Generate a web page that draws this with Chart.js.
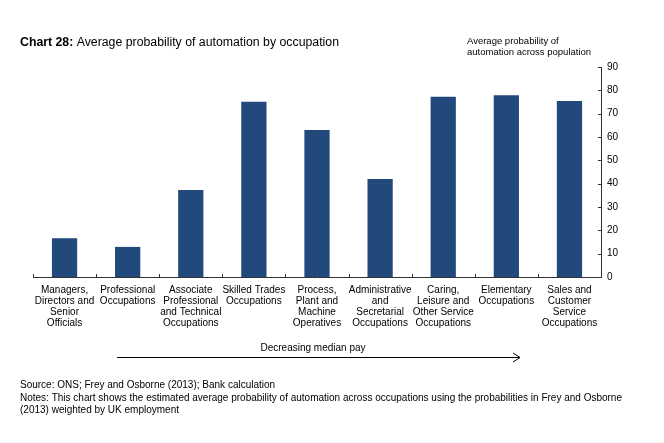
<!DOCTYPE html>
<html>
<head>
    <title>Chart 28: Average probability of automation by occupation</title>
    <script src="https://cdn.jsdelivr.net/npm/chart.js"></script>
    <style>
        body { margin: 0; background: #fff; }
        canvas { display: block; }
    </style>
</head>
<body>
    <canvas id="automationChart" width="664" height="443"></canvas>
    <script>
        // Occupation groups, ordered by decreasing median pay
        const occupations = [
            ['Managers,', 'Directors and', 'Senior', 'Officials'],
            ['Professional', 'Occupations'],
            ['Associate', 'Professional', 'and Technical', 'Occupations'],
            ['Skilled Trades', 'Occupations'],
            ['Process,', 'Plant and', 'Machine', 'Operatives'],
            ['Administrative', 'and', 'Secretarial', 'Occupations'],
            ['Caring,', 'Leisure and', 'Other Service', 'Occupations'],
            ['Elementary', 'Occupations'],
            ['Sales and', 'Customer', 'Service', 'Occupations']
        ];
        // Average probability of automation (%)
        const probability = [16.6, 12.9, 37.3, 75.1, 63.0, 42.0, 77.3, 77.9, 75.4];
        const yMin = 0;
        const yMax = 90;
        const yStep = 10;

        const FONT = "'Liberation Sans', Arial, sans-serif";

        // extra text and the little inward tick marks
        const decorations = {
            id: 'decorations',
            afterDraw(chart) {
                const ctx = chart.ctx;
                const x = chart.scales.x;
                const y = chart.scales.y;
                ctx.save();
                ctx.fillStyle = '#000';
                ctx.strokeStyle = '#000';
                ctx.textBaseline = 'alphabetic';

                // title
                ctx.font = 'bold 12.3px ' + FONT;
                ctx.textAlign = 'left';
                const lead = 'Chart 28:';
                ctx.fillText(lead, 20, 46);
                const w = ctx.measureText(lead + ' ').width;
                ctx.font = '12.3px ' + FONT;
                ctx.fillText('Average probability of automation by occupation', 20 + w, 46);

                // axis caption
                ctx.font = '9.5px ' + FONT;
                ctx.fillText('Average probability of', 467, 44);
                ctx.fillText('automation across population', 467, 55);

                // y ticks pointing into the plot
                ctx.lineWidth = 1;
                ctx.strokeStyle = '#333';
                ctx.beginPath();
                for (let v = yMin; v <= yMax; v += yStep) {
                    const py = Math.round(y.getPixelForValue(v)) + 0.5;
                    ctx.moveTo(y.left - 3, py);
                    ctx.lineTo(y.left, py);
                }
                // x ticks at category boundaries
                for (let i = 0; i <= occupations.length; i++) {
                    const px = Math.round(x.getPixelForValue(i - 0.5)) + 0.5;
                    ctx.moveTo(px, x.top - 3);
                    ctx.lineTo(px, x.top);
                }
                ctx.stroke();

                // arrow
                ctx.strokeStyle = '#000';
                ctx.beginPath();
                ctx.moveTo(117, 357.5);
                ctx.lineTo(520, 357.5);
                ctx.moveTo(513, 353);
                ctx.lineTo(520, 357.5);
                ctx.lineTo(513, 362);
                ctx.stroke();
                ctx.font = '10px ' + FONT;
                ctx.textAlign = 'center';
                ctx.fillText('Decreasing median pay', 313, 351);

                // footnotes
                ctx.textAlign = 'left';
                ctx.fillText('Source: ONS; Frey and Osborne (2013); Bank calculation', 20, 388);
                ctx.fillText('Notes: This chart shows the estimated average probability of automation across occupations using the probabilities in Frey and Osborne', 20, 401);
                ctx.fillText('(2013) weighted by UK employment', 20, 413);
                ctx.restore();
            }
        };

        const ctx = document.getElementById('automationChart').getContext('2d');
        new Chart(ctx, {
            type: 'bar',
            data: {
                labels: occupations,
                datasets: [{
                    data: probability,
                    backgroundColor: '#21497c',
                    borderWidth: 0,
                    categoryPercentage: 0.8,
                    barPercentage: 0.5
                }]
            },
            options: {
                responsive: false,
                animation: false,
                layout: {
                    padding: { left: 33, right: 33, top: 67, bottom: 106 }
                },
                scales: {
                    x: {
                        offset: true,
                        grid: { display: false, drawTicks: false },
                        border: { display: true, color: '#333', width: 1 },
                        ticks: {
                            color: '#000',
                            font: { family: FONT, size: 10, lineHeight: 1.1 },
                            padding: 8,
                            maxRotation: 0,
                            autoSkip: false
                        },
                        afterFit(scale) { scale.height = 60; }
                    },
                    y: {
                        position: 'right',
                        min: yMin,
                        max: yMax,
                        grid: { display: false, drawTicks: false },
                        border: { display: true, color: '#333', width: 1 },
                        ticks: {
                            stepSize: yStep,
                            color: '#000',
                            font: { family: FONT, size: 10 },
                            padding: 6
                        },
                        afterFit(scale) { scale.width = 30; }
                    }
                },
                plugins: {
                    legend: { display: false },
                    tooltip: { enabled: false }
                }
            },
            plugins: [decorations]
        });
    </script>
</body>
</html>
